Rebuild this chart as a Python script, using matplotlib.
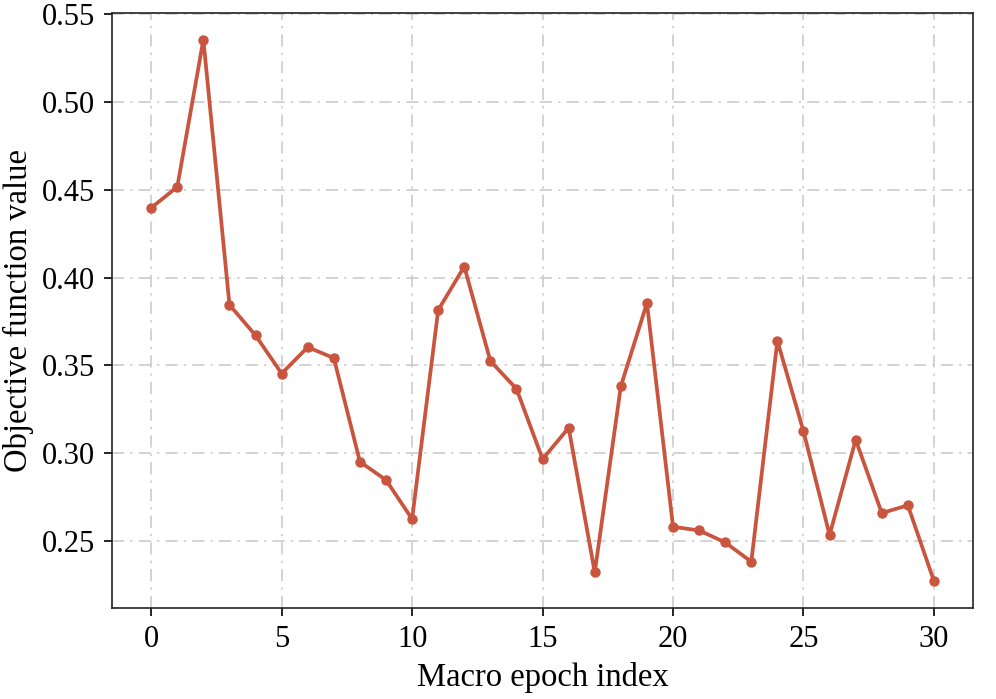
import matplotlib
matplotlib.use("Agg")
import matplotlib.pyplot as plt

epochs = list(range(31))
objective = [0.4397, 0.4516, 0.5354, 0.3845, 0.3671, 0.3454, 0.3604, 0.3542,
             0.2952, 0.2848, 0.2626, 0.3815, 0.4063, 0.3525, 0.3367, 0.2967,
             0.3145, 0.2322, 0.3382, 0.3855, 0.2582, 0.2561, 0.2493, 0.2383,
             0.3640, 0.3125, 0.2535, 0.3077, 0.2660, 0.2704, 0.2273]

plt.rcParams['font.family'] = ['Liberation Serif', 'DejaVu Serif']
plt.rcParams['font.size'] = 22

fig, ax = plt.subplots(figsize=(9.96, 6.99), dpi=100)
fig.subplots_adjust(left=0.1125, right=0.977, top=0.982, bottom=0.13)

ax.plot(epochs, objective, color='#c9553f', linewidth=2.7,
        marker='o', markersize=6.5, zorder=3)

ax.set_xticks([0, 5, 10, 15, 20, 25, 30])
ax.set_yticks([0.25, 0.30, 0.35, 0.40, 0.45, 0.50, 0.55])
ax.yaxis.set_major_formatter(matplotlib.ticker.FormatStrFormatter('%.2f'))
ax.grid(True, linestyle=(0, (8, 4, 1.5, 4)), color='#c8c8c8', linewidth=1.1)
ax.tick_params(direction='out', length=6, width=1.2, labelsize=22, pad=6)
for s in ax.spines.values():
    s.set_linewidth(1.2)
    s.set_color('#222222')

ax.set_xlabel('Macro epoch index', fontsize=23.5, labelpad=6)
ax.set_ylabel('Objective function value', fontsize=23.5, labelpad=6)

fig.savefig('out.png', dpi=100)
